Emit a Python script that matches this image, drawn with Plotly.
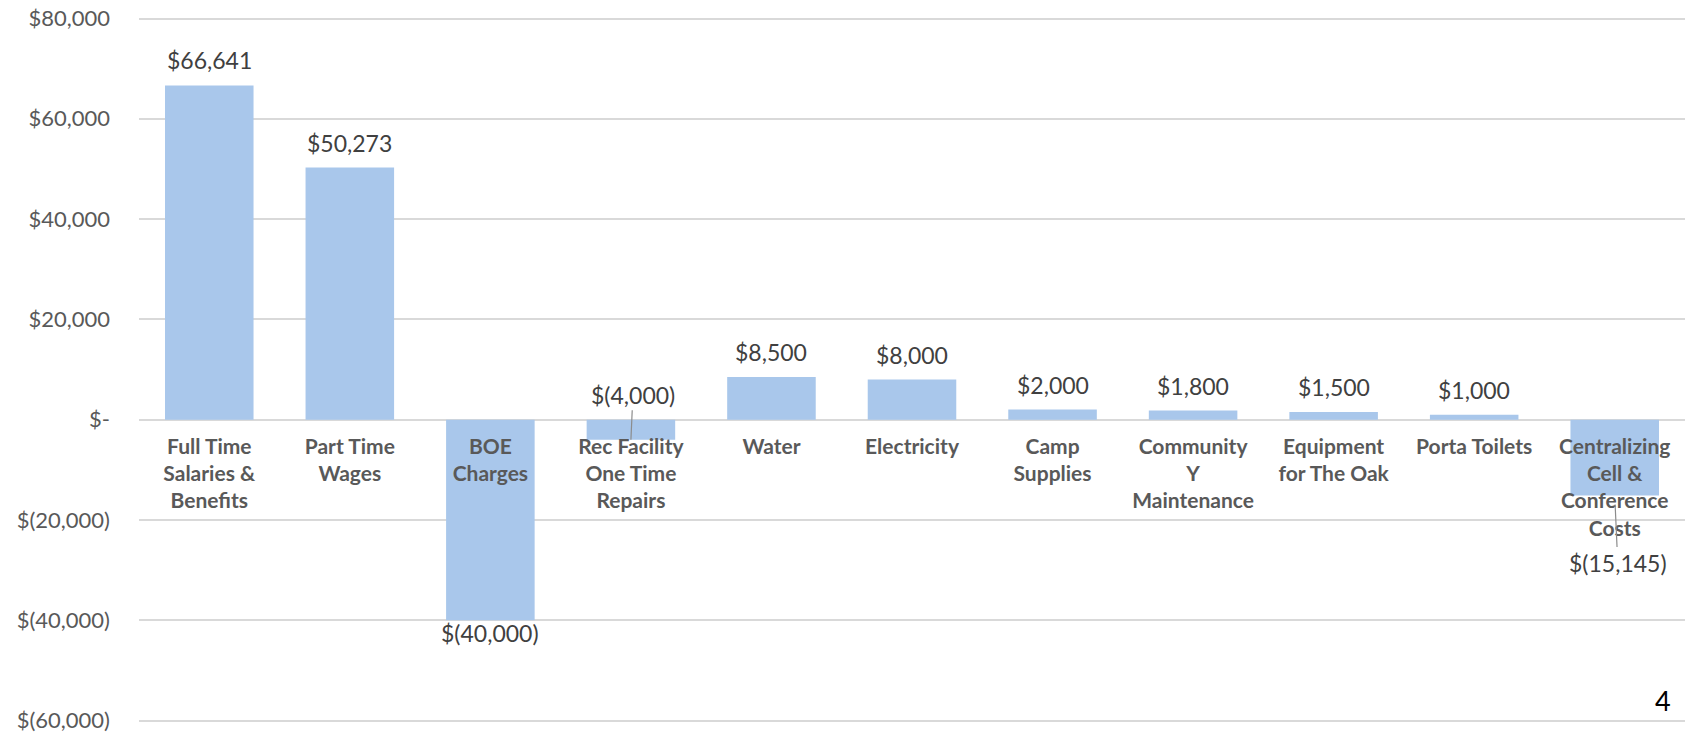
import plotly.graph_objects as go

categories = [
    "Full Time<br>Salaries &<br>Benefits",
    "Part Time<br>Wages",
    "BOE<br>Charges",
    "Rec Facility<br>One Time<br>Repairs",
    "Water",
    "Electricity",
    "Camp<br>Supplies",
    "Community<br>Y<br>Maintenance",
    "Equipment<br>for The Oak",
    "Porta Toilets",
    "Centralizing<br>Cell &<br>Conference<br>Costs",
]
values = [66641, 50273, -40000, -4000, 8500, 8000, 2000, 1800, 1500, 1000, -15145]

y_tickvals = [80000, 60000, 40000, 20000, 0, -20000, -40000, -60000]
y_ticktext = ["$80,000", "$60,000", "$40,000", "$20,000", "$-",
              "$(20,000)", "$(40,000)", "$(60,000)"]

Y_MIN, Y_MAX = -60300, 80300


def fmt(v):
    if v < 0:
        return "$({:,})".format(-v)
    if v == 0:
        return "$-"
    return "${:,}".format(v)


x_idx = list(range(len(categories)))

fig = go.Figure()
fig.add_trace(go.Bar(
    x=x_idx, y=values,
    marker=dict(color="#A9C7EB", line=dict(width=0)),
    width=0.63,
    hoverinfo="skip",
))

label_font = dict(family="Lato, sans-serif", size=23, color="#404040")
annotations = []
for i, v in enumerate(values):
    if v >= 0:
        annotations.append(dict(x=i, y=v, text=fmt(v), showarrow=False,
                                yanchor="bottom", yshift=9, font=label_font))
    elif i == 3:
        annotations.append(dict(x=i, y=v, text=fmt(v), showarrow=True,
                                arrowhead=0, arrowwidth=1.2, arrowcolor="#8c8c8c",
                                ax=2, ay=-45, standoff=0, font=label_font))
    elif i == len(values) - 1:
        annotations.append(dict(x=i, y=v, text=fmt(v), showarrow=True,
                                arrowhead=0, arrowwidth=1.2, arrowcolor="#8c8c8c",
                                ax=3, ay=67, standoff=9, font=label_font))
    else:
        annotations.append(dict(x=i, y=v, text=fmt(v), showarrow=False,
                                yanchor="top", yshift=3, font=label_font))

annotations.append(dict(xref="paper", yref="paper", x=0.9922, y=0.03,
                        xanchor="right", yanchor="middle", text="4",
                        showarrow=False,
                        font=dict(family="Lato, sans-serif", size=27, color="#000000")))

zero_pos = (0 - Y_MIN) / (Y_MAX - Y_MIN)

fig.update_layout(
    width=1703, height=735,
    margin=dict(l=139, r=18, t=17, b=13),
    paper_bgcolor="white", plot_bgcolor="white",
    showlegend=False,
    bargap=0.37,
    annotations=annotations,
    xaxis=dict(
        tickmode="array", tickvals=x_idx, ticktext=categories,
        range=[-0.5, len(categories) - 0.5],
        anchor="free", position=zero_pos,
        showgrid=False, showline=False, zeroline=False, ticks="",
        tickfont=dict(family="Lato, sans-serif", size=21, color="#595959", weight="bold"),
        ticklabelstandoff=12,
        ticklabeloverflow="allow",
        automargin=False,
        layer="above traces",
    ),
    yaxis=dict(
        range=[Y_MIN, Y_MAX],
        tickmode="array", tickvals=y_tickvals, ticktext=y_ticktext,
        showgrid=True, gridcolor="#D9D9D9", gridwidth=1.5,
        zeroline=True, zerolinecolor="#D9D9D9", zerolinewidth=1.5,
        showline=False, ticks="",
        tickfont=dict(family="Lato, sans-serif", size=22, color="#595959"),
        ticklabelstandoff=28,
        ticklabeloverflow="allow",
        automargin=False,
    ),
)

fig.write_html("out.html", config={"displayModeBar": False},
               post_script="document.body.style.margin='0px';")
